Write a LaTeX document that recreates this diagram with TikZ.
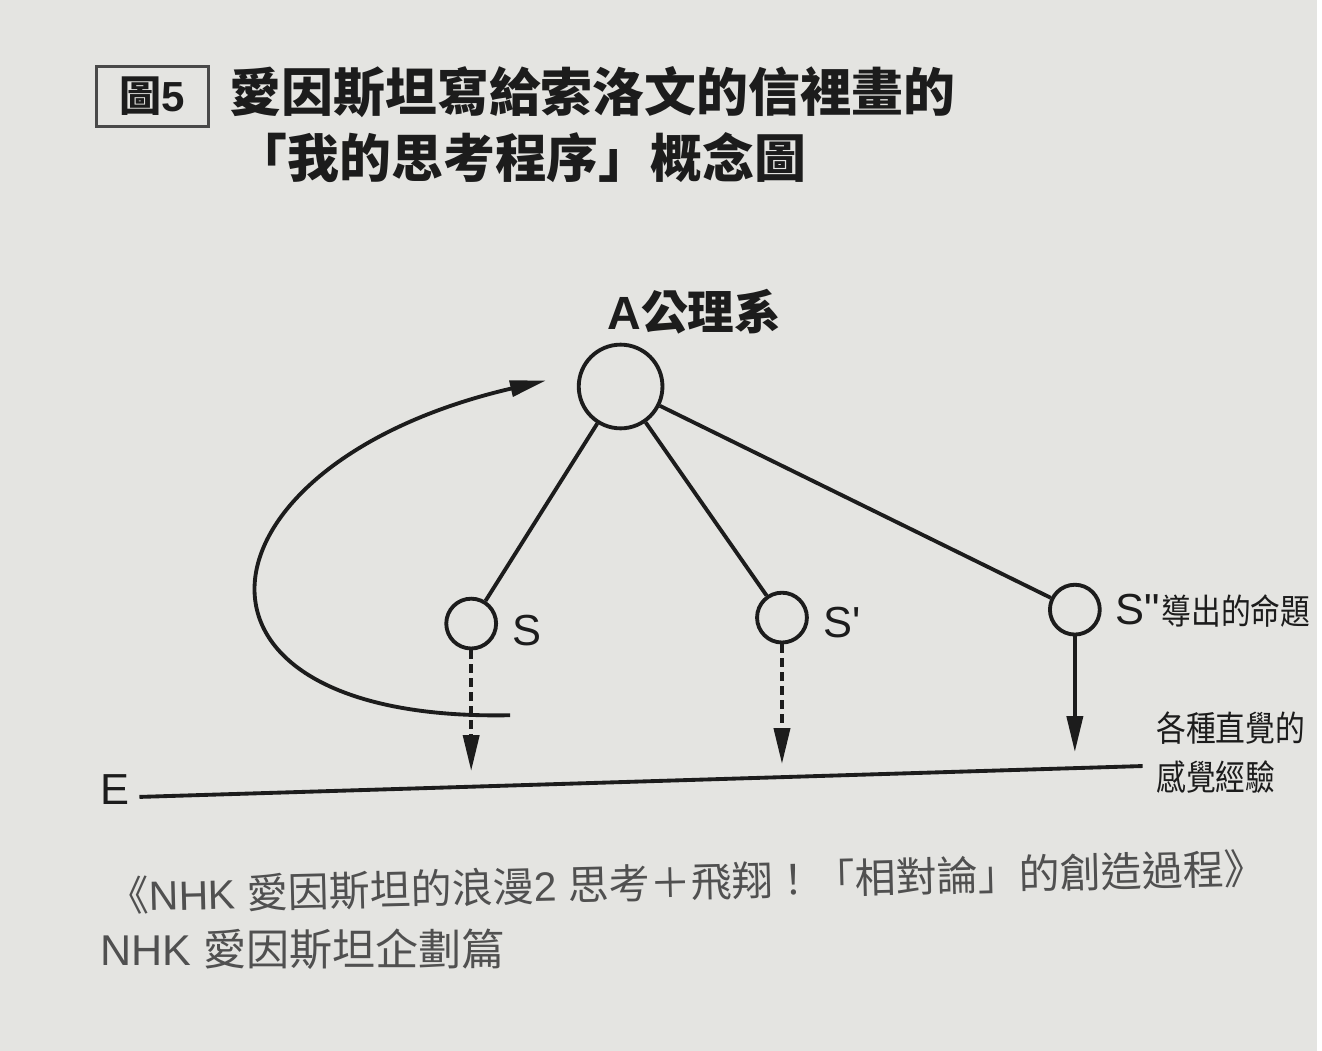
\documentclass[tikz,border=0pt]{standalone}
\usepackage{fontspec}
\newfontfamily\lat{Liberation Sans}
\newfontfamily\cjk{Noto Sans CJK TC}
\newfontfamily\cjkn[FakeStretch=0.85]{Noto Sans CJK TC}
\usetikzlibrary{arrows.meta,positioning}
\definecolor{paper}{RGB}{228,228,225}
\definecolor{ink}{RGB}{28,28,28}
\definecolor{capgray}{RGB}{80,80,80}

\begin{document}
\begin{tikzpicture}[x=0.01cm,y=-0.01cm,
	ball/.style={circle,draw=ink,line width=1.1pt,inner sep=0pt},
	link/.style={draw=ink,line width=1.1pt},
	tip/.style={-{Triangle[length=0.36cm,width=0.16cm]}},
	dots/.style={dash pattern=on 0.09cm off 0.05cm},
	lab/.style={text=ink,font=\fontsize{12.4}{14}\lat},
	title/.style={text=ink,anchor=west,inner sep=0pt,font=\fontsize{14.8}{17}\cjk\bfseries},
	source/.style={text=capgray,anchor=west,inner sep=0pt,font=\fontsize{11.7}{14}\lat}]
	%background
	\fill[paper] (0,0) rectangle (1322,1055);
	
	%title
	\node[draw=ink!80,line width=0.9pt,minimum width=1.13cm,minimum height=0.6cm,inner sep=0pt,
		text=ink,font=\fontsize{12}{14}\cjk\bfseries] (fignum) at (153,97) {圖{\lat\bfseries 5}};
	\node[title] (title1) at (230,92) {愛因斯坦寫給索洛文的信裡畫的};
	\node[title] (title2) at (236,158) {「我的思考程序」概念圖};
	
	%circles
	\node[ball,minimum size=0.84cm] (A) at (623,388) {};
	\node[ball,minimum size=0.5cm] (S) at (473,626) {};
	\node[ball,minimum size=0.5cm] (S1) at (785,620) {};
	\node[ball,minimum size=0.5cm] (S2) at (1079,612) {};
	
	%branches
	\draw[link] (A) -- (S);
	\draw[link] (A) -- (S1);
	\draw[link] (A) -- (S2);
	
	%arrows down to E
	\coordinate (Sfoot) at (473,774);
	\coordinate (S1foot) at (785,767);
	\coordinate (S2foot) at (1079,755);
	\draw[link,tip,dots] (S) -- (Sfoot);
	\draw[link,tip,dots] (S1) -- (S1foot);
	\draw[link,tip] (S2) -- (S2foot);
	
	%loop back to A
	\coordinate (loopIn) at (512,718);
	\coordinate (loopOut) at (548,382);
	\draw[link,tip] (loopIn) .. controls (150,725) and (190,465) .. (loopOut);
	
	%E line
	\node[lab] (E) at (115,793) {E};
	\coordinate (Estart) at (140,800);
	\coordinate (Eend) at (1147,769);
	\draw[link] (Estart) -- (Eend);
	
	%labels
	\node[text=ink,font=\fontsize{13.3}{16}\lat\bfseries] (Alab) at (697,313) {A{\cjk\bfseries 公理系}};
	\node[lab,right=0.02cm of S,yshift=-0.07cm] (Slab) {S};
	\node[lab,right=0.02cm of S1,yshift=-0.05cm] (S1lab) {S'};
	\node[lab,right=0.01cm of S2,yshift=-0.01cm] (S2lab) {S"\hspace{0.02cm}{\fontsize{10}{14}\cjkn 導出的命題}};
	\node[text=ink,anchor=west,align=left,inner sep=0pt,font=\fontsize{10}{14}\cjkn] (sense) at (1160,755) {各種直覺的\\感覺經驗};
	
	%caption
	\node[source,rotate=1.4] (src1) at (108,900) {{\cjk 《}NHK {\cjk 愛因斯坦的浪漫}2 {\cjk 思考＋飛翔！「相對論」的創造過程》}};
	\node[source,font=\fontsize{12.3}{14}\lat] (src2) at (100,953) {NHK {\cjk 愛因斯坦企劃篇}};
	
	%\draw[help lines] (0,0) grid[step=100] (1322,1055);
\end{tikzpicture}
\end{document}
